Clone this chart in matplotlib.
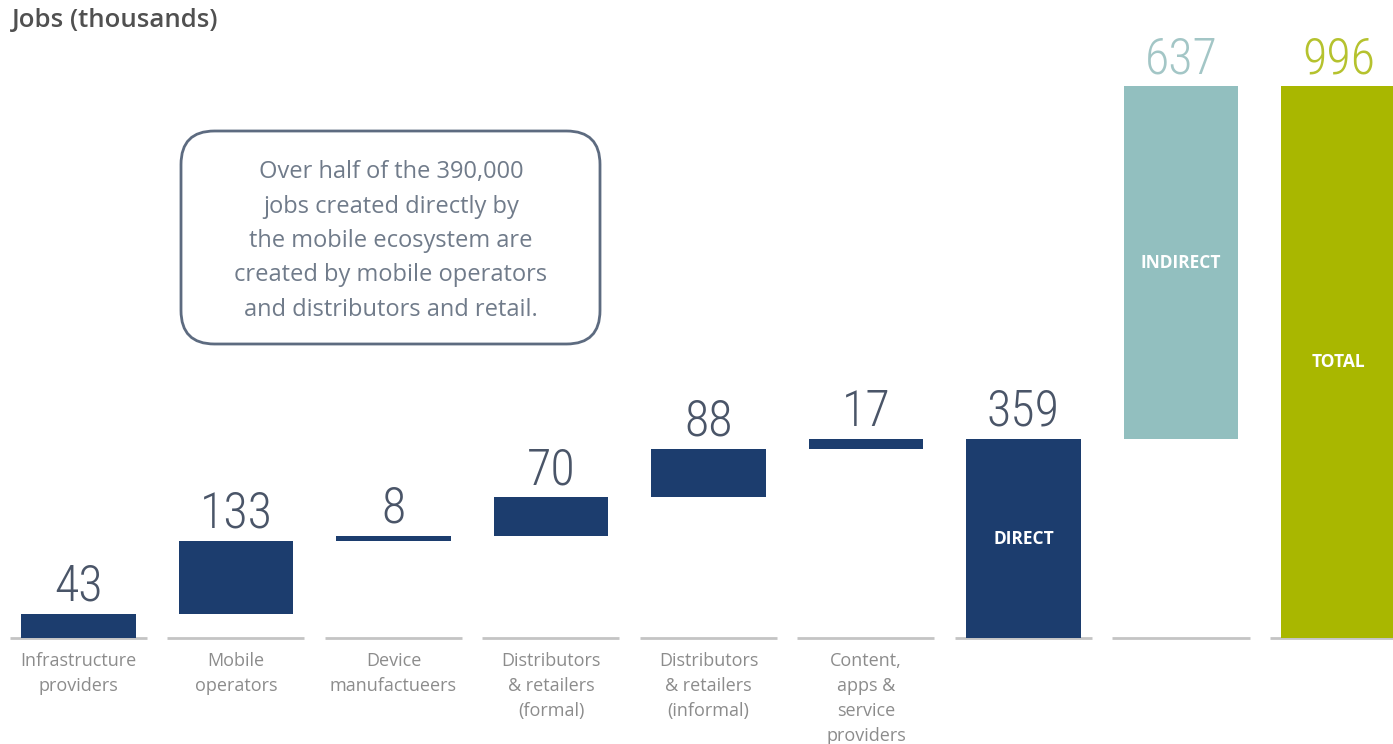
import matplotlib
matplotlib.use("Agg")
import matplotlib.pyplot as plt
from matplotlib.patches import FancyBboxPatch
from matplotlib import font_manager as fm

categories = ["Infrastructure\nproviders", "Mobile\noperators", "Device\nmanufactueers",
              "Distributors\n& retailers\n(formal)", "Distributors\n& retailers\n(informal)",
              "Content,\napps &\nservice\nproviders", "", "", ""]
values = [43, 133, 8, 70, 88, 17, 359, 637, 996]
value_labels = ["43", "133", "8", "70", "88", "17", "359", "637", "996"]
bar_names = ["", "", "", "", "", "", "DIRECT", "INDIRECT", "TOTAL"]
kinds = ["step"] * 6 + ["direct", "indirect", "total"]

navy = "#1c3d6e"
teal = "#92bfbf"
olive = "#a9b700"
num_colors = ["#4a5568"] * 7 + ["#a3c6c6", "#b5c22e"]
bar_colors = [navy] * 7 + [teal, olive]

# compute waterfall bottoms
bottoms = []
run = 0
for k, v in zip(kinds, values):
    if k == "step":
        bottoms.append(run)
        run += v
    elif k == "direct":
        bottoms.append(0)
    elif k == "indirect":
        bottoms.append(values[6])
    else:
        bottoms.append(0)

names = {f.name for f in fm.fontManager.ttflist}
cond_candidates = ["Roboto Condensed", "Open Sans Condensed", "Noto Sans Condensed",
                   "DejaVu Sans Condensed", "Liberation Sans Narrow", "Noto Sans Display Condensed"]
num_family = [n for n in cond_candidates if n in names] + ["DejaVu Sans"]
lab_family = "Open Sans" if "Open Sans" in names else "DejaVu Sans"

fig = plt.figure(figsize=(13.93, 7.44), dpi=100)
ax = fig.add_axes([0, 0, 1, 1])
ax.set_xlim(-0.498, 8.346)
ax.set_ylim(-191.3, 1151.6)
ax.axis("off")

x = list(range(len(values)))
# baseline segments
for xi in x:
    ax.plot([xi - 0.435, xi + 0.435], [0, 0], color="#c4c4c4", lw=2, solid_capstyle="butt", zorder=1)

ax.bar(x, values, bottom=bottoms, width=0.725, color=bar_colors, zorder=2)

for xi, v, b, lab, c in zip(x, values, bottoms, value_labels, num_colors):
    ax.annotate(lab, (xi, b + v), xytext=(0, 9.5), textcoords="offset points",
                ha="center", va="baseline", fontsize=36, color=c,
                family=num_family, fontstretch="condensed", fontweight="light")

for xi, v, b, nm in zip(x, values, bottoms, bar_names):
    if nm:
        ax.text(xi, b + v / 2, nm, ha="center", va="center", color="white",
                fontsize=12.5, fontweight="bold", family=lab_family)

for xi, cat in zip(x, categories):
    if cat:
        ax.annotate(cat, (xi, 0), xytext=(0, -10), textcoords="offset points",
                    ha="center", va="top", fontsize=13, color="#8c8c8c",
                    family=lab_family, linespacing=1.5)

fig.text(12 / 1393, 1 - 20 / 744, "Jobs (thousands)", ha="left", va="center",
         fontsize=18.5, color="#505050", family=lab_family, fontweight="semibold")

# annotation box
bx0, by0, bx1, by1 = 181, 131, 600, 344
box = FancyBboxPatch((bx0 / 1393, 1 - by1 / 744), (bx1 - bx0) / 1393, (by1 - by0) / 744,
                     boxstyle="round,pad=0,rounding_size=0.024", transform=fig.transFigure,
                     facecolor="white", edgecolor="#5d6b80", lw=2, mutation_aspect=1393 / 744)
fig.patches.append(box)
fig.text(391 / 1393, 1 - 241 / 744,
         "Over half of the 390,000\njobs created directly by\nthe mobile ecosystem are\ncreated by mobile operators\nand distributors and retail.",
         ha="center", va="center", fontsize=17, color="#707b8a", family=lab_family,
         linespacing=1.58)

fig.savefig("out.png", dpi=100)
